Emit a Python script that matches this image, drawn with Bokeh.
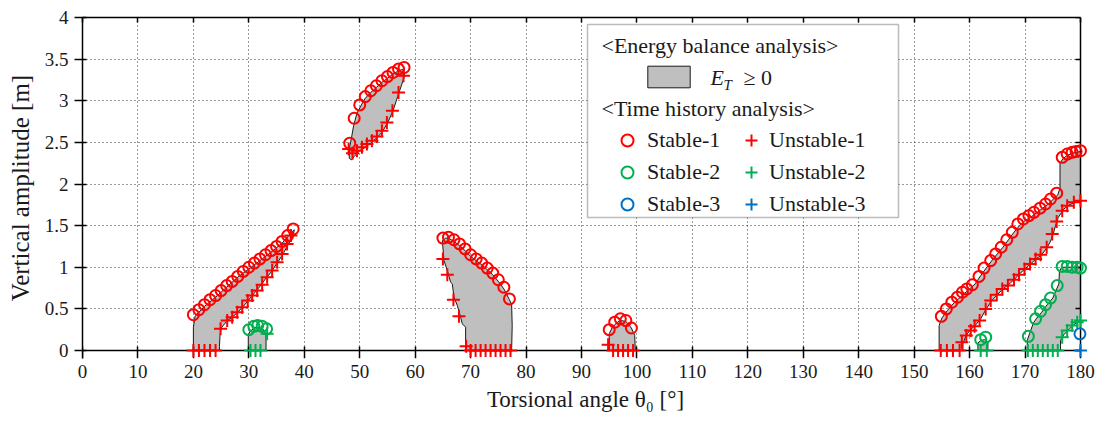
from bokeh.plotting import figure
from bokeh.models import (Range1d, FixedTicker, LinearAxis, Legend, LegendItem,
                          Label, BoxAnnotation)
from bokeh.embed import file_html
from bokeh.resources import INLINE

# ---------------- data ----------------
x_ticks = [0, 10, 20, 30, 40, 50, 60, 70, 80, 90, 100, 110, 120, 130, 140, 150, 160, 170, 180]
y_ticks = [0, 0.5, 1, 1.5, 2, 2.5, 3, 3.5, 4]
y_tick_labels = ["0", "0.5", "1", "1.5", "2", "2.5", "3", "3.5", "4"]
x_lim = (0, 180)
y_lim = (0, 4)

# E_T >= 0 regions (boundaries)
reg1_t = [20.0, 20.0, 20.3, 22, 24, 26, 28, 30, 32, 34, 36, 38, 38.2, 38, 37, 36, 35, 34, 33, 32, 31, 30, 29, 28, 27, 26, 25, 24.8, 24.7, 24.7]
reg1_a = [0.0, 0.28, 0.41, 0.53, 0.64, 0.76, 0.88, 0.98, 1.08, 1.18, 1.29, 1.44, 1.45, 1.38, 1.26, 1.14, 1.04, 0.94, 0.86, 0.77, 0.69, 0.61, 0.53, 0.46, 0.40, 0.35, 0.27, 0.18, 0.05, 0.0]
reg2_t = [29.9, 29.9, 30.2, 31.0, 31.7, 32.5, 33.1, 33.1]
reg2_a = [0.0, 0.18, 0.23, 0.27, 0.28, 0.26, 0.20, 0.0]
reg3_t = [48.1, 48.2, 48.5, 48.9, 49.5, 50.3, 51, 52, 53, 54, 55, 56, 57, 57.9, 58.1, 57.6, 57, 56, 55, 54, 53, 52, 51, 50, 49, 48.5]
reg3_a = [2.31, 2.45, 2.55, 2.70, 2.85, 2.95, 3.03, 3.10, 3.16, 3.22, 3.27, 3.32, 3.36, 3.38, 3.30, 3.20, 3.08, 2.88, 2.73, 2.62, 2.55, 2.49, 2.44, 2.40, 2.33, 2.29]
reg4_t = [64.9, 65.5, 66, 67, 68, 69, 70, 71, 72, 73, 74, 75, 76, 77, 77.4, 77.5, 77.4, 69.1, 69.1, 68.5, 68.2, 67.6, 67.0, 66.7, 66.4, 65.8, 65.2]
reg4_a = [1.32, 1.35, 1.35, 1.31, 1.26, 1.20, 1.13, 1.08, 1.03, 0.97, 0.91, 0.83, 0.74, 0.61, 0.55, 0.30, 0.0, 0.0, 0.28, 0.32, 0.40, 0.54, 0.64, 0.80, 0.82, 0.96, 1.08]
reg5_t = [95.0, 95.0, 95.5, 96.3, 97.0, 98.0, 99.0, 99.6, 99.7]
reg5_a = [0.0, 0.20, 0.27, 0.33, 0.36, 0.35, 0.27, 0.18, 0.0]
reg6_t = [154.5, 154.5, 155, 156, 157, 158, 159, 160, 161, 162, 163, 164, 165, 166, 167, 168, 169, 170, 171, 172, 173, 174, 175, 175.9, 176.3, 176.3, 176.8, 177.5, 178.5, 180, 180,
          179, 178, 177, 176, 175.5, 175, 174.5, 174, 173, 172, 171, 170, 169, 168, 167, 166, 165, 164, 163, 162, 161, 160, 159.3, 158.8, 158.8]
reg6_a = [0.0, 0.30, 0.39, 0.48, 0.56, 0.62, 0.68, 0.74, 0.80, 0.90, 0.99, 1.08, 1.16, 1.24, 1.33, 1.42, 1.50, 1.56, 1.60, 1.65, 1.70, 1.75, 1.81, 1.87, 1.95, 2.25, 2.30, 2.34, 2.37, 2.39, 1.80,
          1.78, 1.75, 1.70, 1.60, 1.50, 1.38, 1.30, 1.24, 1.15, 1.10, 1.04, 0.98, 0.92, 0.85, 0.79, 0.74, 0.67, 0.60, 0.50, 0.38, 0.30, 0.24, 0.17, 0.08, 0.0]
reg7_t = [161.5, 161.5, 162.0, 162.7, 163.3, 163.3]
reg7_a = [0.0, 0.09, 0.12, 0.13, 0.10, 0.0]
reg8_t = [170.4, 170.4, 170.8, 171.5, 172, 173, 174, 175, 175.7, 176.1, 176.2, 176.6, 180, 180, 179, 178, 177, 176.4, 176.4]
reg8_a = [0.0, 0.12, 0.20, 0.33, 0.38, 0.46, 0.55, 0.63, 0.74, 0.80, 0.95, 1.00, 1.00, 0.36, 0.32, 0.26, 0.19, 0.12, 0.0]

# Stable-1 (red circles)
s1_t = [20, 21, 22, 23, 24, 25, 26, 27, 28, 29, 30, 31, 32, 33, 34, 35, 36, 37, 38,
        48.2, 49, 50, 51, 52, 53, 54, 55, 56, 57, 58,
        65, 66, 67, 68, 69, 70, 71, 72, 73, 74, 75, 76, 77,
        95, 96, 97, 98, 99,
        154.9, 155.8, 156.8, 157.8, 158.7, 159.5, 160.5, 161.7, 162.6, 163.8, 164.7, 165.7, 166.7, 167.7, 168.7, 169.7, 170.7, 171.6, 172.7, 173.7, 174.6, 175.7,
        176.7, 177.6, 178.5, 179.2, 180]
s1_a = [0.43, 0.49, 0.55, 0.61, 0.66, 0.72, 0.78, 0.83, 0.89, 0.95, 1.00, 1.05, 1.10, 1.15, 1.20, 1.25, 1.31, 1.38, 1.46,
        2.49, 2.79, 2.95, 3.05, 3.12, 3.18, 3.24, 3.29, 3.34, 3.38, 3.40,
        1.35, 1.36, 1.33, 1.28, 1.22, 1.15, 1.10, 1.05, 0.99, 0.93, 0.85, 0.76, 0.62,
        0.25, 0.34, 0.38, 0.36, 0.27,
        0.41, 0.50, 0.58, 0.64, 0.70, 0.74, 0.79, 0.89, 0.99, 1.08, 1.16, 1.24, 1.33, 1.42, 1.52, 1.58, 1.62, 1.66, 1.71, 1.76, 1.82, 1.89,
        2.32, 2.36, 2.38, 2.39, 2.40]

# Unstable-1 (red crosses)
u1_t = [20, 21, 22, 23, 24, 24.9, 26.1, 27, 27.9, 28.8, 29.8, 30.6, 31.5, 32.4, 33.3, 34.2, 35.1, 36, 36.9, 37.6,
        48, 48.7, 49.5, 50.4, 51.3, 52.2, 53.1, 54, 54.9, 55.9, 57, 57.9,
        65, 65.8, 66.9, 67.9, 69.2, 70, 70.9, 71.8, 72.7, 73.6, 74.5, 75.4, 76.3, 77.2,
        94.8, 95.7, 96.6, 97.5, 98.4, 99.3,
        154.8, 155.9, 157, 158.2, 158.6, 159.4, 160.2, 160.9, 161.8, 162.9, 163.8, 164.9, 165.9, 166.9, 168, 168.9, 169.9, 170.9, 171.9, 172.8, 173.9, 174.9, 175.7, 176.7, 177.6, 178.8, 180]
u1_a = [0, 0, 0, 0, 0, 0.26, 0.36, 0.40, 0.46, 0.52, 0.60, 0.66, 0.72, 0.79, 0.88, 0.96, 1.06, 1.16, 1.28, 1.38,
        2.42, 2.37, 2.40, 2.44, 2.48, 2.52, 2.57, 2.64, 2.74, 2.88, 3.10, 3.30,
        1.10, 0.91, 0.61, 0.41, 0.05, 0, 0, 0, 0, 0, 0, 0, 0, 0,
        0.07, 0, 0, 0, 0, 0,
        0, 0, 0, 0, 0.10, 0.18, 0.24, 0.29, 0.36, 0.50, 0.60, 0.67, 0.74, 0.78, 0.85, 0.91, 0.98, 1.04, 1.10, 1.15, 1.24, 1.40, 1.55, 1.68, 1.74, 1.78, 1.80]

# Stable-2 (green circles)
s2_t = [30, 30.9, 31.6, 32.4, 33.2, 162, 162.9,
        170.6, 171.9, 172.8, 173.7, 174.6, 175.8, 176.7, 177.6, 178.5, 179.4, 180]
s2_a = [0.25, 0.29, 0.30, 0.29, 0.26, 0.13, 0.16,
        0.17, 0.38, 0.47, 0.55, 0.63, 0.78, 1.01, 1.01, 1.00, 1.00, 0.99]

# Unstable-2 (green crosses)
u2_t = [30.3, 31.2, 32.1, 33.3, 162, 163.1,
        170.5, 171.4, 172.3, 173.2, 174.1, 175.0, 175.9, 176.7, 177.6, 178.5, 179.4, 180]
u2_a = [0, 0, 0, 0.20, 0, 0,
        0, 0, 0, 0, 0, 0, 0, 0.16, 0.24, 0.30, 0.34, 0.36]

# Stable-3 / Unstable-3 (blue)
s3_t = [179.9]
s3_a = [0.20]
u3_t = [180]
u3_a = [0]

regions_t = [reg1_t, reg2_t, reg3_t, reg4_t, reg5_t, reg6_t, reg7_t, reg8_t]
regions_a = [reg1_a, reg2_a, reg3_a, reg4_a, reg5_a, reg6_a, reg7_a, reg8_a]

RED = "#ff0000"
GREEN = "#00b050"
BLUE = "#0070c0"
FONT = "Liberation Serif"
TXT = "#1a1a1a"

# ---------------- figure ----------------
# Frame is a few pixels larger than the axes box so that markers on the
# axes (A = 0, theta = 180) are not clipped; axis lines are pinned to the limits.
W, H = 1100, 430
BL, BR, BT, BB = 82, 12, 17, 72
AX_W, AX_H = 998, 333          # pixel size of the 0..180 x 0..4 axes box
fw, fh = W - BL - BR, H - BT - BB
x_end = x_lim[0] + (x_lim[1] - x_lim[0]) * fw / AX_W
y_start = y_lim[1] - (y_lim[1] - y_lim[0]) * fh / AX_H
gap = fh - AX_H                # pixels between A=0 and the frame bottom

p = figure(width=W, height=H, output_backend="svg", toolbar_location=None,
           x_range=Range1d(x_lim[0], x_end), y_range=Range1d(y_start, y_lim[1]),
           min_border_left=BL, min_border_right=BR, min_border_top=BT, min_border_bottom=BB)
p.outline_line_color = None
p.background_fill_color = "white"

# left axis (normal) -------------------------------------------------
ya = p.yaxis[0]
ya.axis_line_width = 1.5
ya.axis_line_color = "#000000"
ya.major_tick_line_width = 1.5
ya.major_tick_line_color = "#000000"
ya.minor_tick_line_color = None
ya.major_tick_in = 4
ya.major_tick_out = 8
ya.ticker = FixedTicker(ticks=y_ticks)
ya.major_label_overrides = {t: l for t, l in zip(y_ticks, y_tick_labels)}
ya.major_label_standoff = 6
ya.axis_label = "Vertical amplitude [m]"
ya.axis_label_standoff = 8

# bottom axis: labels only (sits at frame bottom) ----------------------
xa = p.xaxis[0]
xa.axis_line_color = None
xa.major_tick_line_color = None
xa.minor_tick_line_color = None
xa.major_tick_in = 0
xa.major_tick_out = 0
xa.ticker = FixedTicker(ticks=x_ticks)
xa.major_label_standoff = 14 - gap
xa.axis_label = "Torsional angle θ₀ [°]"
xa.axis_label_standoff = 6

for ax in (xa, ya):
    ax.major_label_text_font = FONT
    ax.major_label_text_font_size = "19px"
    ax.major_label_text_color = TXT
    ax.axis_label_text_font = FONT
    ax.axis_label_text_font_style = "normal"
    ax.axis_label_text_color = TXT
xa.axis_label_text_font_size = "23px"
ya.axis_label_text_font_size = "25px"

# line + ticks at A = 0 (no labels)
x0_ax = LinearAxis(ticker=FixedTicker(ticks=x_ticks), major_tick_in=4, major_tick_out=8,
                   minor_tick_line_color=None, major_label_text_color=None,
                   major_label_text_font_size="10px", bounds=x_lim, fixed_location=y_lim[0],
                   axis_line_width=1.5, major_tick_line_width=1.5)
top_ax = LinearAxis(ticker=FixedTicker(ticks=x_ticks), major_tick_in=5, major_tick_out=0,
                    minor_tick_line_color=None, major_label_text_color=None,
                    major_label_text_font_size="10px", bounds=x_lim,
                    axis_line_width=1.5, major_tick_line_width=1.5, major_label_standoff=0)
right_ax = LinearAxis(ticker=FixedTicker(ticks=y_ticks), major_tick_in=5, major_tick_out=0,
                      minor_tick_line_color=None, major_label_text_color=None,
                      major_label_text_font_size="10px", bounds=y_lim, fixed_location=x_lim[1],
                      axis_line_width=1.5, major_tick_line_width=1.5, major_label_standoff=0)
p.add_layout(x0_ax, "below")
p.add_layout(top_ax, "above")
p.add_layout(right_ax, "right")

p.xgrid.cross_bounds = y_lim
p.ygrid.cross_bounds = x_lim
for g in (p.xgrid[0], p.ygrid[0]):
    g.grid_line_color = "#333333"
    g.grid_line_dash = "1 3"
    g.grid_line_width = 1
p.xgrid.ticker = FixedTicker(ticks=x_ticks)
p.ygrid.ticker = FixedTicker(ticks=y_ticks)

# ---------------- glyphs ----------------
reg = p.patches(regions_t, regions_a, fill_color="#bfbfbf", line_color="#1a1a1a", line_width=1)
r_u1 = p.scatter(u1_t, u1_a, marker="cross", size=13, line_color=RED, line_width=2, level="overlay")
r_s1 = p.scatter(s1_t, s1_a, marker="circle", size=11, line_color=RED, fill_color=None, line_width=2, level="overlay")
r_u2 = p.scatter(u2_t, u2_a, marker="cross", size=13, line_color=GREEN, line_width=2, level="overlay")
r_s2 = p.scatter(s2_t, s2_a, marker="circle", size=11, line_color=GREEN, fill_color=None, line_width=2, level="overlay")
r_s3 = p.scatter(s3_t, s3_a, marker="circle", size=11, line_color=BLUE, fill_color=None, line_width=2, level="overlay")
r_u3 = p.scatter(u3_t, u3_a, marker="cross", size=13, line_color=BLUE, line_width=2, level="overlay")

# ---------------- legend (screen units, relative to frame bottom-left) ----------------
fb = H - BB                   # frame bottom in page pixels
def sx(px): return px - BL
def sy(py): return fb - py

box = BoxAnnotation(left=sx(587), right=sx(898), top=sy(24), bottom=sy(217),
                    left_units="screen", right_units="screen", top_units="screen", bottom_units="screen",
                    fill_color="white", fill_alpha=1, line_color="#222222", line_width=1.5)
p.add_layout(box)

def hdr(txt, x, y, size="22px", style="normal"):
    lab = Label(x=sx(x), y=sy(y), x_units="screen", y_units="screen", text=txt,
                text_font=FONT, text_font_size=size, text_font_style=style,
                text_color=TXT, text_baseline="middle", text_align="left")
    p.add_layout(lab)

hdr("<Energy balance analysis>", 601, 45)
hdr("<Time history analysis>", 601, 108)
hdr("E", 710, 77, style="italic")
hdr("T", 723, 84, size="15px", style="italic")
hdr("≥ 0", 743, 77)

def mk_legend(items, x, y_bottom, gw, gh, standoff):
    lg = Legend(items=items, location=(sx(x), sy(y_bottom)), orientation="vertical",
                glyph_width=gw, glyph_height=gh, label_height=gh, label_standoff=standoff,
                spacing=2, padding=0, margin=0, border_line_color=None,
                background_fill_alpha=0, label_text_font=FONT, label_text_font_size="22px",
                label_text_color=TXT)
    p.add_layout(lg)

mk_legend([LegendItem(label=" ", renderers=[reg])], 642, 90, 53, 27, 0)
mk_legend([LegendItem(label="Stable-1", renderers=[r_s1]),
           LegendItem(label="Stable-2", renderers=[r_s2]),
           LegendItem(label="Stable-3", renderers=[r_s3])], 612, 219, 30, 30, 5)
mk_legend([LegendItem(label="Unstable-1", renderers=[r_u1]),
           LegendItem(label="Unstable-2", renderers=[r_u2]),
           LegendItem(label="Unstable-3", renderers=[r_u3])], 736, 219, 30, 30, 3)

open("out.html", "w").write(file_html(p, INLINE))
